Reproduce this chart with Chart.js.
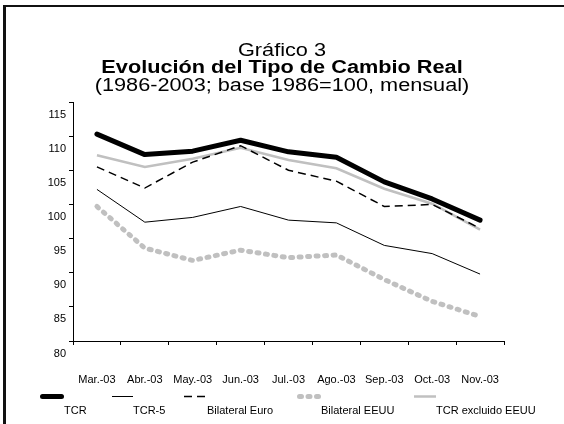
<!DOCTYPE html>
<html><head><meta charset="utf-8">
<script src="https://cdn.jsdelivr.net/npm/chart.js@4/dist/chart.umd.min.js"></script>
<style>html,body{margin:0;padding:0;background:#fff;}#wrap{position:relative;width:564px;height:424px;}</style>
</head><body><div id="wrap"><canvas id="c" width="564" height="424"></canvas></div>
<script>
// ---- data ----
const categories = ['Mar.-03','Abr.-03','May.-03','Jun.-03','Jul.-03','Ago.-03','Sep.-03','Oct.-03','Nov.-03'];
const tcr           = [110.3, 107.3, 107.8, 109.4, 107.7, 106.9, 103.3, 100.8, 97.7];
const tcr5          = [102.2,  97.4,  98.1,  99.7,  97.7,  97.3,  94.0,  92.8, 89.8];
const bilateralEuro = [105.5, 102.4, 106.2, 108.6, 105.0, 103.4,  99.7, 100.0, 96.5];
const bilateralEEUU = [ 99.7,  93.6,  91.8,  93.3,  92.2,  92.6,  89.0,  85.8, 83.6];
const tcrExclEEUU   = [107.2, 105.5, 106.7, 108.3, 106.5, 105.3, 102.3, 100.1, 96.3];
const seriesNames = ['TCR','TCR-5','Bilateral Euro','Bilateral EEUU','TCR excluido EEUU'];
const yMin = 80, yMax = 115, yStep = 5;
const titleLines = ['Gráfico 3','Evolución del Tipo de Cambio Real','(1986-2003; base 1986=100, mensual)'];

// ---- layout constants ----
const FONT = '"Liberation Sans", Arial, sans-serif';
const legendSymX = [40, 112, 184, 297, 414];
const legendSymW = [24, 21, 23, 24, 22];
const legendSymY = 396.5, legendTextY = 410.5;

const framePlugin = {
  id: 'frame',
  beforeDraw(chart) {
    const ctx = chart.ctx;
    ctx.save();
    ctx.fillStyle = '#fff';
    ctx.fillRect(0, 0, chart.width, chart.height);
    ctx.fillStyle = '#111';
    ctx.fillRect(3, 5, chart.width - 3, 2);
    ctx.fillRect(3, 5, 3, chart.height - 5);
    ctx.restore();
  }
};

const headingPlugin = {
  id: 'heading',
  afterDraw(chart) {
    const ctx = chart.ctx;
    const cx = 282, sx = 1.24;
    const specs = [
      {text: titleLines[0], weight: 'normal', y: 56},
      {text: titleLines[1], weight: 'bold', y: 73},
      {text: titleLines[2], weight: 'normal', y: 91}
    ];
    ctx.save();
    ctx.fillStyle = '#000';
    ctx.textAlign = 'center';
    ctx.textBaseline = 'alphabetic';
    specs.forEach(s => {
      ctx.save();
      ctx.translate(cx, s.y);
      ctx.scale(sx, 1);
      ctx.font = s.weight + ' 17.5px ' + FONT;
      ctx.fillText(s.text, 0, 0);
      ctx.restore();
    });
    ctx.restore();
  }
};

const legendPlugin = {
  id: 'customLegend',
  afterDraw(chart) {
    const ctx = chart.ctx;
    ctx.save();
    chart.data.datasets.forEach((ds, i) => {
      const x0 = legendSymX[i], x1 = x0 + legendSymW[i];
      const round = ds.borderCapStyle === 'round';
      ctx.save();
      ctx.strokeStyle = ds.borderColor;
      ctx.lineWidth = ds.borderWidth;
      ctx.lineCap = ds.borderCapStyle || 'butt';
      ctx.setLineDash(ds.borderDash || []);
      ctx.beginPath();
      ctx.moveTo(x0 + (round ? ds.borderWidth / 2 : 0), legendSymY);
      ctx.lineTo(x1 - (round ? ds.borderWidth / 2 : 0), legendSymY);
      ctx.stroke();
      ctx.restore();
      ctx.fillStyle = '#000';
      ctx.font = '11px ' + FONT;
      ctx.textAlign = 'left';
      ctx.textBaseline = 'middle';
      ctx.fillText(ds.label, x1, legendTextY);
    });
    ctx.restore();
  }
};

const grey = '#c0c0c0';
new Chart(document.getElementById('c'), {
  type: 'line',
  data: {
    labels: categories,
    datasets: [
      {label: seriesNames[0], data: tcr, borderColor: '#000', borderWidth: 5, borderCapStyle: 'round', borderJoinStyle: 'round'},
      {label: seriesNames[1], data: tcr5, borderColor: '#000', borderWidth: 1},
      {label: seriesNames[2], data: bilateralEuro, borderColor: '#000', borderWidth: 1.5, borderDash: [8, 5]},
      {label: seriesNames[3], data: bilateralEEUU, borderColor: grey, borderWidth: 5, borderDash: [2, 6.5], borderCapStyle: 'round', borderJoinStyle: 'round'},
      {label: seriesNames[4], data: tcrExclEEUU, borderColor: grey, borderWidth: 2.5}
    ]
  },
  options: {
    responsive: false,
    animation: false,
    devicePixelRatio: 1,
    layout: {padding: {top: 102, right: 60, bottom: 31, left: 0}},
    elements: {point: {radius: 0, hoverRadius: 0}, line: {tension: 0, fill: false}},
    plugins: {legend: {display: false}, title: {display: false}, tooltip: {enabled: false}},
    scales: {
      x: {
        type: 'category',
        offset: true,
        grid: {offset: true, drawOnChartArea: false, drawTicks: true, tickLength: 4, color: '#000'},
        border: {display: true, color: '#000', width: 1},
        ticks: {color: '#000', font: {family: FONT, size: 11}, maxRotation: 0, autoSkip: false, padding: 28},
        afterFit(s) { s.height = 52; }
      },
      y: {
        type: 'linear',
        min: yMin, max: yMax,
        grid: {drawOnChartArea: false, drawTicks: true, tickLength: 4, color: '#000'},
        border: {display: true, color: '#000', width: 1},
        ticks: {stepSize: yStep, color: '#000', font: {family: FONT, size: 11}, padding: 3, labelOffset: 12.5},
        afterFit(s) { s.width = 73; }
      }
    }
  },
  plugins: [framePlugin, headingPlugin, legendPlugin]
});
</script>
</body></html>
